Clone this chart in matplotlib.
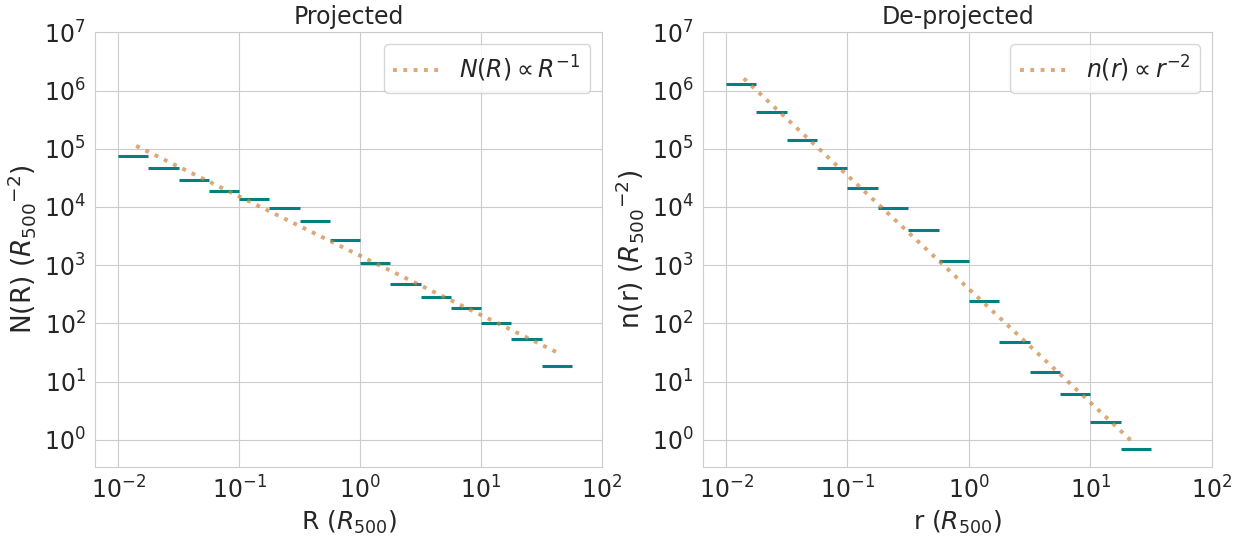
import numpy as np
import matplotlib
matplotlib.use("Agg")
import matplotlib.pyplot as plt
import seaborn as sns

# bin edges in R500 (quarter-decade bins)
edges = [0.01, 0.0178, 0.0316, 0.0562, 0.1, 0.178, 0.316, 0.562,
         1.0, 1.78, 3.16, 5.62, 10.0, 17.8, 31.6, 56.2]

# projected surface density per bin
N_proj = [7.4e4, 4.6e4, 2.86e4, 1.85e4, 1.35e4, 9.5e3, 5.66e3, 2.67e3,
          1.08e3, 470, 281, 185, 101, 53.6, 18.5]
# de-projected density per bin
n_deproj = [1.27e6, 4.2e5, 1.39e5, 4.6e4, 2.08e4, 9.5e3, 3.97e3, 1.17e3,
            240, 47.6, 14.6, 6.1, 2.02, 0.695]

# power-law guide lines (end points)
pl1_x = [0.0141, 41.7]
pl1_y = [1.12e5, 32.4]
pl2_x = [0.0140, 21.9]
pl2_y = [1.61e6, 0.95]

sns.set_style("whitegrid")
plt.rcParams["font.family"] = ["DejaVu Sans"]

fsz = 17
fig = plt.figure(figsize=(12.38, 5.42), dpi=100)
ax = fig.add_axes([0.0771, 0.1389, 0.4092, 0.8015])
bx = fig.add_axes([0.5681, 0.1389, 0.4107, 0.8015])

for a, vals, px, py, lab, xl, yl, tt in [
        (ax, N_proj, pl1_x, pl1_y, r"$N(R) \propto R^{-1}$",
         r"R ($R_{500}$)", r"N(R) ($R_{500}{}^{-2}$)", "Projected"),
        (bx, n_deproj, pl2_x, pl2_y, r"$n(r) \propto r^{-2}$",
         r"r ($R_{500}$)", r"n(r) ($R_{500}{}^{-2}$)", "De-projected")]:
    nb = len(vals)
    a.hlines(vals, edges[:nb], edges[1:nb + 1], colors="teal", lw=2.2)
    a.plot(px, py, ":", color="peru", alpha=0.7, lw=2.8, label=lab)
    a.set_xscale("log")
    a.set_yscale("log")
    a.set_xlim(0.0065, 100)
    a.set_ylim(0.345, 1e7)
    a.set_xticks([1e-2, 1e-1, 1e0, 1e1, 1e2])
    a.set_yticks([1e0, 1e1, 1e2, 1e3, 1e4, 1e5, 1e6, 1e7])
    a.minorticks_off()
    a.tick_params(labelsize=fsz, colors=".15")
    a.set_xlabel(xl, fontsize=fsz + 1)
    a.set_ylabel(yl, fontsize=fsz + 2)
    a.set_title(tt, fontsize=fsz)
    a.legend(loc="upper right", fontsize=fsz, handlelength=2.0)

fig.savefig("out.png", dpi=100)
